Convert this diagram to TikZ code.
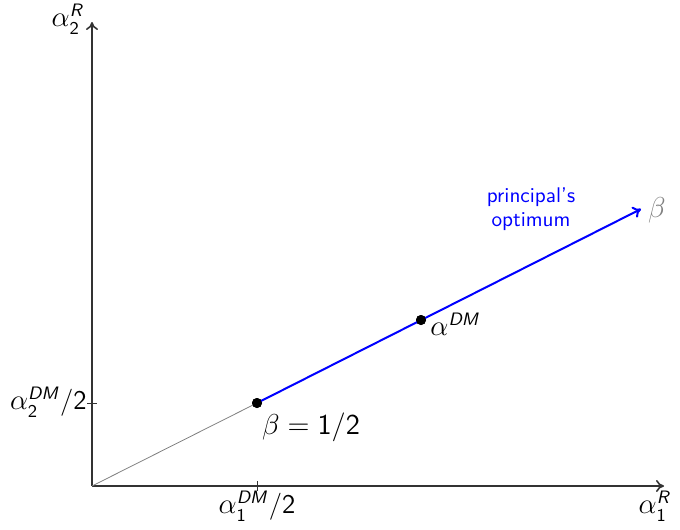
\documentclass[tikz,border=0pt]{standalone}
\usetikzlibrary{arrows.meta}
\DeclareMathAlphabet{\mathsfit}{OT1}{cmss}{m}{sl}
\newcommand{\ssi}[1]{\mathsfit{#1}}
\newcommand{\ssn}[1]{\mathsf{#1}}
\begin{document}
\begin{tikzpicture}[x=0.5pt,y=-0.5pt,
  axis/.style={draw=black!80, line width=0.8pt, -{To[length=4pt,width=6pt]}},
  tickmark/.style={draw=black!80, line width=0.5pt},
  bigl/.style={font=\sffamily\fontsize{13.5}{16}\selectfont, inner sep=1pt},
  smalll/.style={font=\sffamily\fontsize{10.6}{12}\selectfont, text=blue, align=center, inner sep=0pt},
  dotn/.style={circle, fill=black, inner sep=0pt, minimum size=5pt}]
\useasboundingbox (0,0) rectangle (680,530);
\coordinate (O) at (92,486);
\coordinate (Ytop) at (92,22);
\coordinate (Xend) at (664,486);
\coordinate (B) at (641,209);
\node[dotn] (P) at (257,403) {};
\node[dotn] (A) at (421,320) {};
\draw[axis] (O) -- (Ytop);
\draw[axis] (O) -- (Xend);
\coordinate (tx) at (257,486);
\coordinate (ty) at (92,403);
\draw[tickmark] ([yshift=2.5pt]tx) -- ([yshift=-2.5pt]tx);
\draw[tickmark] ([xshift=-2.5pt]ty) -- ([xshift=2.5pt]ty);
\draw[gray, line width=0.4pt] (O) -- (P.center);
\draw[blue, line width=1pt, -{To[length=4pt,width=6pt]}] (P.center) -- (B);
\node[dotn] at (P) {};
\node[dotn] at (A) {};
\node[bigl] (ly) at (68,19) {$\alpha_{\ssn{2}}^{\ssi{R}}$};
\node[bigl, anchor=east] (lyt) at (89,402) {$\alpha_{\ssn{2}}^{\ssi{DM}}$/2};
\node[bigl] (lxt) at (257,506) {$\alpha_{\ssn{1}}^{\ssi{DM}}$/2};
\node[bigl] (lx) at (655,506) {$\alpha_{\ssn{1}}^{\ssi{R}}$};
\node[bigl, text=gray] (lb) at (657,210) {$\beta$};
\node[bigl, anchor=west] (la) at (428,324) {$\alpha^{\ssi{DM}}$};
\node[bigl] (lh) at (311,427) {$\beta = \ssn{1/2}$};
\node[smalll] (po) at (531,209) {principal's\\optimum};
\end{tikzpicture}
\end{document}
